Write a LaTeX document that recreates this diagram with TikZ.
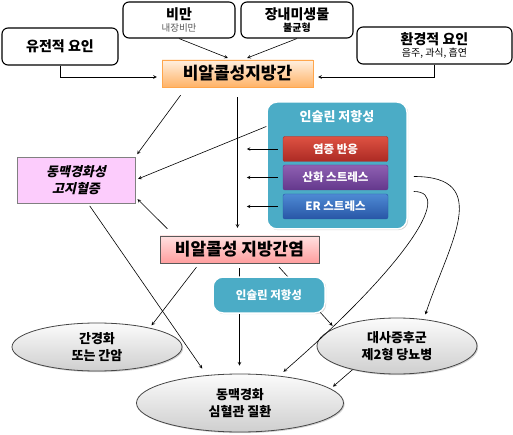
\documentclass[tikz,border=0pt]{standalone}
\usepackage{fontspec}
\setmainfont{Noto Sans CJK KR}
\newfontfamily\krslant{Noto Sans CJK KR}[FakeSlant=0.22]
\usetikzlibrary{shapes.geometric,shadows,calc}

\definecolor{tealIR}{RGB}{75,172,198}
\definecolor{rosaBox}{RGB}{252,204,252}
\definecolor{rossoA}{RGB}{222,82,66}
\definecolor{rossoB}{RGB}{172,42,36}
\definecolor{violaA}{RGB}{142,96,178}
\definecolor{violaB}{RGB}{100,56,140}
\definecolor{bluA}{RGB}{78,138,212}
\definecolor{bluB}{RGB}{40,86,166}

\begin{document}
\begin{tikzpicture}[x=1pt,y=-1pt,
    arr/.style={-stealth, line width=0.6pt},
    ombra/.style={drop shadow={shadow xshift=1.2pt, shadow yshift=-1.2pt, opacity=0.35}},
    fattore/.style={draw=black, line width=1.1pt, rounded corners=6pt, fill=white,
        align=center, inner sep=0pt, font=\bfseries\fontsize{14}{16}\selectfont},
    malattia/.style={ellipse, draw=gray!55!black, line width=0.8pt, top color=gray!3,
        bottom color=gray!38, align=center, inner sep=0pt, ombra,
        font=\bfseries\fontsize{13}{17}\selectfont},
    insulina/.style={fill=tealIR, draw=white, line width=1.5pt, rounded corners=10pt, ombra},
    barra/.style={rounded corners=2pt, minimum width=105pt, minimum height=25pt, inner sep=0pt,
        text=white, font=\bfseries\fontsize{11.5}{12}\selectfont}
]
    \useasboundingbox (0,0) rectangle (513,435);

    % Fattori di rischio in alto
    \node[fattore, minimum width=116pt, minimum height=37pt] (gen) at (60,46.5) {유전적 요인};
    \node[fattore, minimum width=112pt, minimum height=36pt] (obes) at (179,20)
        {비만\\[-4pt]{\fontsize{9.5}{10}\selectfont\mdseries\color{gray!70!black}내장비만}};
    \node[fattore, minimum width=112pt, minimum height=36pt] (micro) at (297,20)
        {장내미생물\\[-4pt]{\fontsize{10}{10}\selectfont 불균형}};
    \node[fattore, minimum width=155pt, minimum height=37pt] (env) at (434.5,45.5)
        {환경적 요인\\[-4pt]{\fontsize{10}{10}\selectfont\mdseries 음주, 과식, 흡연}};

    % Fegato grasso non alcolico
    \node[draw=orange!70, top color=orange!12, bottom color=orange!60, ombra,
        minimum width=151pt, minimum height=27pt, inner sep=0pt,
        font=\bfseries\fontsize{17}{18}\selectfont] (nafld) at (237.5,73.5) {비알콜성지방간};

    % Dislipidemia
    \node[draw=gray, line width=0.8pt, fill=rosaBox, ombra, align=center,
        minimum width=118pt, minimum height=46pt, inner sep=0pt,
        font=\krslant\bfseries\fontsize{13}{17}\selectfont] (ascvd) at (76,180) {동맥경화성\\고지혈증};

    % Resistenza insulinica (riquadro grande)
    \node[insulina, minimum width=140pt, minimum height=127pt] (ir) at (337,165.5) {};
    \node[text=white, font=\bfseries\fontsize{13}{14}\selectfont] (irt) at (337,117) {인슐린 저항성};
    \node[barra, top color=rossoA, bottom color=rossoB, draw=rossoB] (infl) at (335.5,149) {염증 반응};
    \node[barra, top color=violaA, bottom color=violaB, draw=violaB] (ox) at (335.5,177.5) {산화 스트레스};
    \node[barra, top color=bluA, bottom color=bluB, draw=bluB] (er) at (335.5,206.5) {ER 스트레스};

    % Steatoepatite
    \node[draw=gray!70!black, top color=red!12, bottom color=red!38, ombra,
        minimum width=159pt, minimum height=27pt, inner sep=0pt,
        font=\bfseries\fontsize{17}{18}\selectfont] (nash) at (239.5,249.5) {비알콜성 지방간염};

    % Esiti
    \node[malattia, minimum width=170pt, minimum height=48pt] (lc) at (97,347) {간경화\\또는 간암};
    \node[malattia, minimum width=207pt, minimum height=58pt] (cvd) at (240,403) {동맥경화\\심혈관 질환};
    \node[malattia, minimum width=160pt, minimum height=56pt] (mets) at (397,346) {대사증후군\\제2형 당뇨병};

    % Frecce dietro il riquadro piccolo
    \draw[arr, shorten <=5pt, shorten >=8pt] (nash.south) -- (nash.south |- cvd.north);
    \draw[arr, shorten <=5pt, shorten >=3pt] ([xshift=36pt]nash.south) -- (mets.164);
    \node[insulina, minimum width=112pt, minimum height=36pt, text=white,
        font=\bfseries\fontsize{11.5}{12}\selectfont] (ir2) at (269,295) {인슐린 저항성};

    % Frecce verso il fegato grasso
    \draw[arr, shorten >=5pt] (gen.south) |- ([yshift=-3.5pt]nafld.west);
    \draw[arr, shorten >=5pt] (env.south) |- ([yshift=-3.5pt]nafld.east);
    \draw[arr, shorten >=5pt] (obes.south) -- ([xshift=-5pt]nafld.north);
    \draw[arr, shorten >=5pt] (micro.south) -- ([xshift=5pt]nafld.north);

    % Frecce verso la dislipidemia e la steatoepatite
    \draw[arr, shorten <=10pt, shorten >=3pt] ([xshift=-51pt]nafld.south) -- (ascvd.north east);
    \draw[arr, shorten >=3pt] ([yshift=39pt]ir.west) -- (ascvd.east);
    \draw[arr, shorten <=10pt, shorten >=3pt] ([xshift=-65pt]nash.north) -- ([yshift=-17pt]ascvd.east);
    \draw[arr, shorten <=10pt, shorten >=8pt] (nafld.south) -- (nafld.south |- nash.north);
    \foreach \b in {infl,ox,er}
        \draw[arr] ([xshift=-5pt]\b.west) -- ([xshift=-36pt]\b.west);

    % Curve dallo stress ossidativo
    \draw[arr, shorten >=5pt] ($(ir.east |- ox.east)+(6,-1)$) .. controls +(80,0) and +(25,-75) .. (mets.45);
    \draw[arr, shorten >=6pt] ($(ir.east |- ox.east)+(6,14)$) .. controls +(42,0) and +(122,-106) .. (cvd.35);

    % Frecce verso gli esiti
    \draw[arr, shorten <=5pt, shorten >=3pt] ([xshift=-40pt]nash.south) -- (lc.20);
    \draw[arr, shorten <=3pt, shorten >=8pt] ([xshift=12pt]ascvd.south) -- (cvd.140);
    \draw[arr, shorten >=3pt] (mets.208) -- (cvd.9);

\end{tikzpicture}
\end{document}
